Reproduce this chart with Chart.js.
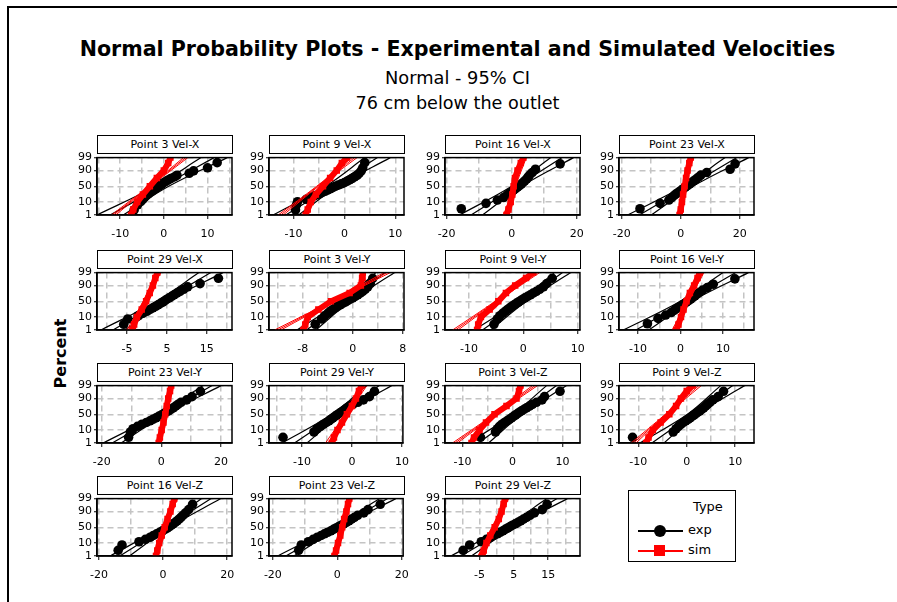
<!DOCTYPE html>
<html>
<head>
<meta charset="utf-8">
<script src="https://cdn.jsdelivr.net/npm/chart.js@4.4.0/dist/chart.umd.min.js"></script>
<style>
  html, body { margin: 0; background: #fff; overflow: hidden; font-family: "DejaVu Sans", Verdana, sans-serif; }
  #page { position: relative; width: 897px; height: 602px; overflow: hidden; background: #fff; }
  #frame { position: absolute; left: 7px; top: 6px; width: 900px; height: 600px; border-top: 2px solid #000; border-left: 2px solid #000; }
  .t { position: absolute; left: 0; width: 915px; text-align: center; color: #000; white-space: nowrap; }
  .hdr { position: absolute; box-sizing: border-box; height: 19px; border: 1px solid #000; background: #fff;
         font-size: 11px; line-height: 17px; text-align: center; white-space: pre; }
  canvas { position: absolute; }
  #ylab { position: absolute; left: 20px; top: 344px; width: 80px; text-align: center; font-weight: bold; font-size: 16px;
          transform: rotate(-90deg); }
  #legend { position: absolute; left: 628px; top: 490px; width: 108px; height: 72px; box-sizing: border-box; border: 1px solid #000; }
  #legend .lt { position: absolute; font-size: 13px; }
  #legend .ln { position: absolute; height: 2px; }
</style>
</head>
<body>
<div id="page">
  <div id="frame"></div>
  <div class="t" style="top:37px;font-size:20.6px;font-weight:bold;">Normal Probability Plots - Experimental and Simulated Velocities</div>
  <div class="t" style="top:67px;font-size:17.8px;">Normal - 95% CI</div>
  <div class="t" style="top:93px;font-size:17.6px;">76 cm below the outlet</div>
  <div id="ylab">Percent</div>
  <div id="legend">
    <div class="lt" style="left:64px;top:8px;">Type</div>
    <div class="ln" style="left:9px;top:39px;width:45px;background:#000;"></div>
    <div style="position:absolute;left:25px;top:34px;width:12px;height:12px;border-radius:50%;background:#000;"></div>
    <div class="lt" style="left:59px;top:31px;">exp</div>
    <div class="ln" style="left:9px;top:59px;width:45px;background:#f00;"></div>
    <div style="position:absolute;left:25px;top:54px;width:11px;height:11px;background:#f00;"></div>
    <div class="lt" style="left:59px;top:51px;">sim</div>
  </div>
</div>
<script>
// ---- layout of the 4x4 grid (15 panels used)
const COL_X = [97, 269, 445, 619];
const ROW_Y = [153, 268, 381, 494];
const PLOT_W = 135, PLOT_H = 62;

// ---- probability axis
const Y_TICKS = [1, 10, 50, 90, 99];
const SIM_PCT = [0.5, 1, 3, 10, 25, 50, 75, 90, 97, 99, 99.5];

const TITLES = ['Point 3 Vel-X', 'Point 9 Vel-X', 'Point 16 Vel-X', 'Point 23 Vel-X',
                'Point 29 Vel-X', 'Point 3 Vel-Y', 'Point 9 Vel-Y', 'Point 16 Vel-Y',
                'Point 23 Vel-Y', 'Point 29 Vel-Y', 'Point 3 Vel-Z', 'Point 9 Vel-Z',
                'Point 16 Vel-Z', 'Point 23 Vel-Z', 'Point 29 Vel-Z'];

const X_RANGE = [[-15.3, 15.6], [-14.8, 11.7], [-20.5, 21.0], [-20.9, 24.8],
                 [-12.5, 21.3], [-13.4, 8.2], [-14.4, 10.4], [-14.5, 17.3],
                 [-21.6, 23.7], [-16.6, 10.2], [-13.5, 13.5], [-14.0, 13.9],
                 [-20.6, 21.5], [-21.2, 20.4], [-15.1, 24.3]];
const X_LABELS = [[-10, 0, 10], [-10, 0, 10], [-20, 0, 20], [-20, 0, 20],
                  [-5, 5, 15], [-8, 0, 8], [-10, 0, 10], [-10, 0, 10],
                  [-20, 0, 20], [-10, 0, 10], [-10, 0, 10], [-10, 0, 10],
                  [-20, 0, 20], [-20, 0, 20], [-5, 5, 15]];
const X_GRID = [5, 5, 10, 10, 5, 4, 5, 5, 10, 5, 5, 5, 10, 10, 5];

// ---- experimental velocities (sorted)
const exp_p3_x  = [-6.8, -6.0, -5.3, -4.8, -4.4, -4.0, -3.6, -3.2, -2.8, -2.4, -2.0, -1.6, -1.2, -0.8, -0.4, 0.0, 0.5, 1.0, 1.6, 2.4, 3.0, 5.8, 6.8, 10.0, 12.2];
const exp_p9_x  = [-9.6, -9.4, -9.2, -7.5, -6.5, -5.8, -5.0, -4.4, -3.8, -3.3, -2.8, -2.3, -1.8, -1.2, -0.6, 0.0, 0.5, 1.0, 1.5, 2.0, 2.5, 2.9, 3.3, 3.6, 4.0];
const exp_p16_x = [-15.5, -7.9, -4.4, -2.5, -1.5, -0.8, 0.0, 0.6, 1.2, 1.8, 2.4, 3.0, 3.5, 4.0, 4.6, 5.0, 5.5, 6.3, 7.3, 14.9];
const exp_p23_x = [-13.8, -7.0, -4.0, -3.0, -2.2, -1.4, -0.6, 0.2, 0.9, 1.6, 2.3, 3.0, 3.7, 4.4, 5.2, 6.0, 6.8, 8.8, 16.7, 18.4];
const exp_p29_x = [-5.8, -4.8, -2.2, -1.0, 0.0, 0.8, 1.5, 2.2, 2.8, 3.4, 4.0, 4.5, 5.0, 5.6, 6.2, 6.8, 7.5, 8.3, 9.2, 10.2, 13.3, 17.9];
const exp_p3_y  = [-6.0, -5.0, -4.5, -4.0, -3.6, -3.2, -2.8, -2.4, -2.0, -1.6, -1.2, -0.8, -0.4, 0.0, 0.4, 0.8, 1.2, 1.6, 2.0, 2.4, 2.8, 3.2];
const exp_p9_y  = [-5.4, -4.8, -4.3, -3.8, -3.3, -2.9, -2.5, -2.1, -1.7, -1.3, -0.9, -0.5, -0.1, 0.3, 0.8, 1.3, 1.8, 2.4, 3.0, 3.7, 4.3, 5.3];
const exp_p16_y = [-7.8, -5.3, -3.5, -2.2, -1.5, -0.9, -0.3, 0.3, 0.9, 1.4, 1.9, 2.4, 2.9, 3.4, 3.9, 4.5, 5.2, 6.3, 7.7, 12.8];
const exp_p23_y = [-11.0, -10.4, -9.5, -8.0, -6.5, -5.0, -3.8, -2.8, -1.8, -0.9, 0.0, 0.8, 1.6, 2.4, 3.2, 4.0, 4.8, 5.6, 6.6, 8.5, 10.3, 13.1];
const exp_p29_y = [-13.8, -7.6, -7.0, -6.3, -5.7, -5.1, -4.6, -4.2, -3.8, -3.4, -3.0, -2.6, -2.2, -1.8, -1.4, -1.0, -0.5, 0.2, 1.2, 2.3, 3.5, 4.5];
const exp_p3_z  = [-6.4, -3.4, -3.0, -2.6, -2.1, -1.6, -1.1, -0.6, -0.2, 0.2, 0.6, 1.0, 1.4, 1.8, 2.3, 2.8, 3.4, 4.0, 4.8, 5.9, 6.4, 9.5];
const exp_p9_z  = [-11.2, -2.8, -2.2, -1.7, -1.2, -0.7, -0.2, 0.3, 0.7, 1.1, 1.5, 1.9, 2.3, 2.7, 3.1, 3.5, 3.9, 4.3, 4.8, 5.4, 6.5, 7.6];
const exp_p16_z = [-14.0, -12.8, -7.5, -5.5, -4.0, -3.0, -2.0, -1.0, -0.2, 0.6, 1.3, 2.0, 2.6, 3.2, 3.8, 4.4, 5.0, 5.6, 6.2, 7.0, 8.0, 9.2];
const exp_p23_z = [-12.0, -11.2, -9.0, -7.5, -6.2, -5.0, -4.0, -3.0, -2.0, -1.2, -0.4, 0.4, 1.2, 2.0, 2.8, 3.6, 4.4, 5.3, 6.3, 8.2, 9.5, 13.3];
const exp_p29_z = [-9.8, -7.9, -4.5, -3.0, -1.8, -0.8, 0.2, 1.0, 1.8, 2.5, 3.2, 3.9, 4.6, 5.4, 6.2, 7.0, 7.8, 8.7, 9.7, 11.0, 13.3, 14.7];

// ---- simulated velocities, x value at each SIM_PCT level
const sim_p3_x  = [-7.9, -7.5, -7.0, -6.1, -4.8, -3.2, -1.6, 0.0, 1.0, 1.5, 1.7];
const sim_p9_x  = [-8.0, -7.6, -7.2, -6.6, -5.6, -4.2, -2.8, -1.5, -0.5, 0.5, 1.0];
const sim_p16_x = [-2.0, -1.6, -1.0, -0.3, 0.2, 0.6, 1.0, 1.8, 2.8, 3.6, 4.0];
const sim_p23_x = [-0.6, -0.4, 0.0, 0.4, 0.8, 1.3, 1.8, 2.3, 2.9, 3.4, 3.7];
const sim_p29_x = [-4.0, -3.6, -3.2, -2.5, -1.3, -0.2, 0.7, 1.5, 2.1, 2.6, 2.9];
const sim_p3_y  = [-8.0, -7.9, -7.6, -7.2, -5.5, -3.5, -0.5, 1.3, 1.5, 1.6, 1.7];
const sim_p9_y  = [-8.7, -8.5, -8.3, -7.8, -6.2, -4.6, -3.2, -1.5, 0.5, 1.8, 2.3];
const sim_p16_y = [-1.3, -1.0, -0.5, 0.1, 0.7, 1.4, 2.2, 3.2, 4.0, 4.5, 4.8];
const sim_p23_y = [-1.3, -0.9, -0.5, 0.1, 0.7, 1.3, 1.8, 2.3, 2.9, 3.3, 3.6];
const sim_p29_y = [-4.4, -4.0, -3.6, -2.9, -2.0, -1.0, 0.0, 0.8, 1.4, 1.9, 2.2];
const sim_p3_z  = [-8.5, -8.2, -7.7, -6.6, -5.3, -3.6, -1.2, 0.8, 1.3, 1.6, 1.8];
const sim_p9_z  = [-8.8, -8.4, -7.9, -7.0, -5.4, -3.6, -2.2, -1.2, 0.0, 1.2, 2.0];
const sim_p16_z = [-2.6, -2.2, -1.8, -1.2, -0.4, 0.5, 1.4, 2.3, 3.0, 3.5, 3.8];
const sim_p23_z = [-1.3, -0.9, -0.4, 0.2, 0.9, 1.5, 2.1, 2.8, 3.3, 3.7, 4.0];
const sim_p29_z = [-4.6, -4.2, -3.8, -3.0, -1.9, -0.6, 0.6, 1.4, 2.0, 2.4, 2.7];

// fitted normal lines: x at 1% and at 99%; CI half width [at ends, at middle]
const EXP_FIT = [[-12.3, 11.5], [-11.5, 6.5], [-12.5, 15.5], [-14.0, 19.0],
                 [-8.5, 16.0], [-7.4, 5.2], [-7.5, 7.2], [-10.5, 13.0],
                 [-16.5, 17.0], [-11.5, 5.5], [-6.8, 8.8], [-7.2, 9.5],
                 [-13.5, 15.0], [-16.0, 15.6], [-10.4, 17.6]];
const EXP_CI = [[3, 1.5], [2.5, 1.2], [3.5, 1.5], [4, 1.6], [3, 1.3], [1.5, 0.7], [1.5, 0.7], [3, 1.3],
                [3, 1.2], [2.5, 1.0], [2, 0.9], [2.5, 1.0], [3, 1.3], [2.5, 1.1], [3, 1.3]];
const SIM_FIT = [[-11.5, 5.0], [-12.5, 2.0], [-2.0, 4.0], [-0.6, 3.6], [-4.5, 3.0],
                 [-12.0, 5.5], [-12.5, 2.5], [-1.5, 5.0], [-1.0, 3.5], [-4.8, 2.5],
                 [-11.5, 4.5], [-11.0, 2.5], [-2.5, 4.0], [-1.0, 4.0], [-5.0, 3.0]];
const SIM_CI = [0.5, 0.2];

const EXP_SETS = [exp_p3_x, exp_p9_x, exp_p16_x, exp_p23_x, exp_p29_x, exp_p3_y, exp_p9_y, exp_p16_y,
                  exp_p23_y, exp_p29_y, exp_p3_z, exp_p9_z, exp_p16_z, exp_p23_z, exp_p29_z];
const SIM_SETS = [sim_p3_x, sim_p9_x, sim_p16_x, sim_p23_x, sim_p29_x, sim_p3_y, sim_p9_y, sim_p16_y,
                  sim_p23_y, sim_p29_y, sim_p3_z, sim_p9_z, sim_p16_z, sim_p23_z, sim_p29_z];

// inverse standard normal (Acklam)
function invNorm(p) {
  const a = [-3.969683028665376e+01, 2.209460984245205e+02, -2.759285104469687e+02, 1.383577518672690e+02, -3.066479806614716e+01, 2.506628277459239e+00];
  const b = [-5.447609879822406e+01, 1.615858368580409e+02, -1.556989798598866e+02, 6.680131188771972e+01, -1.328068155288572e+01];
  const c = [-7.784894002430293e-03, -3.223964580411365e-01, -2.400758277161838e+00, -2.549732539343734e+00, 4.374664141464968e+00, 2.938163982698783e+00];
  const d = [7.784695709041462e-03, 3.224671290700398e-01, 2.445134137142996e+00, 3.754408661907416e+00];
  const pl = 0.02425;
  let q, r;
  if (p < pl) {
    q = Math.sqrt(-2 * Math.log(p));
    return (((((c[0]*q+c[1])*q+c[2])*q+c[3])*q+c[4])*q+c[5]) / ((((d[0]*q+d[1])*q+d[2])*q+d[3])*q+1);
  }
  if (p > 1 - pl) {
    q = Math.sqrt(-2 * Math.log(1 - p));
    return -(((((c[0]*q+c[1])*q+c[2])*q+c[3])*q+c[4])*q+c[5]) / ((((d[0]*q+d[1])*q+d[2])*q+d[3])*q+1);
  }
  q = p - 0.5; r = q * q;
  return (((((a[0]*r+a[1])*r+a[2])*r+a[3])*r+a[4])*r+a[5])*q / (((((b[0]*r+b[1])*r+b[2])*r+b[3])*r+b[4])*r+1);
}
const zOf = pct => invNorm(pct / 100);
const Z_LO = zOf(1), Z_HI = zOf(99);

// box around the plot area
const boxPlugin = {
  id: 'box',
  afterDatasetsDraw(chart) {
    const {ctx, chartArea: a} = chart;
    ctx.save();
    ctx.strokeStyle = '#000';
    ctx.lineWidth = 1.5;
    ctx.strokeRect(a.left, a.top, a.right - a.left, a.bottom - a.top);
    ctx.restore();
  }
};

function fitLines(fit, ci, color, width) {
  const mid = (fit[0] + fit[1]) / 2;
  const line = (d0, d1) => ({
    data: [{x: fit[0] + d0, y: Z_LO}, {x: mid + d1, y: 0}, {x: fit[1] + d0, y: Z_HI}],
    showLine: true, pointRadius: 0, borderColor: color, borderWidth: width, tension: 0.35, clip: 0
  });
  return [line(0, 0), line(-ci[0], -ci[1]), line(ci[0], ci[1])];
}

const page = document.getElementById('page');
Chart.defaults.font.family = '"DejaVu Sans", Verdana, sans-serif';
Chart.defaults.font.size = 11;
Chart.defaults.color = '#000';

TITLES.forEach((title, i) => {
  const L = COL_X[i % 4], T = ROW_Y[Math.floor(i / 4)];

  const hdr = document.createElement('div');
  hdr.className = 'hdr';
  hdr.style.left = L + 'px';
  hdr.style.top = (T - 18) + 'px';
  hdr.style.width = (PLOT_W + 1) + 'px';
  hdr.textContent = title;
  page.appendChild(hdr);

  const cv = document.createElement('canvas');
  const W = 30 + PLOT_W + 14, H = 4 + PLOT_H + 27;
  cv.width = W; cv.height = H;
  cv.style.width = W + 'px'; cv.style.height = H + 'px';
  cv.style.left = (L - 30) + 'px';
  cv.style.top = (T - 4) + 'px';
  page.appendChild(cv);

  const exp = EXP_SETS[i];
  const n = exp.length;
  const expPts = exp.map((v, k) => ({x: v, y: invNorm((k + 1 - 0.3) / (n + 0.4))}));
  const simPts = SIM_SETS[i].map((v, k) => ({x: v, y: zOf(SIM_PCT[k])}));
  const labels = X_LABELS[i];
  const step = X_GRID[i];
  const [xmin, xmax] = X_RANGE[i];

  new Chart(cv, {
    type: 'scatter',
    data: {
      datasets: [
        {data: simPts, showLine: true, borderColor: '#ff0000', borderWidth: 6, pointStyle: 'rect',
         pointRadius: 4.6, pointBackgroundColor: '#ff0000', pointBorderWidth: 0, clip: 0},
        ...fitLines(SIM_FIT[i], SIM_CI, '#ff0000', 1),
        {data: expPts, showLine: false, pointStyle: 'circle', pointRadius: 4.8,
         pointBackgroundColor: '#000', pointBorderWidth: 0, clip: 3},
        ...fitLines(EXP_FIT[i], EXP_CI[i], '#000', 1.2)
      ]
    },
    options: {
      responsive: false,
      animation: false,
      events: [],
      layout: {padding: {left: 0, top: 4, right: 14, bottom: 0}},
      plugins: {legend: {display: false}, tooltip: {enabled: false}},
      scales: {
        x: {
          type: 'linear', min: xmin, max: xmax,
          afterBuildTicks: s => {
            const t = [];
            for (let v = Math.ceil(xmin / step) * step; v <= xmax; v += step) t.push({value: v});
            s.ticks = t;
          },
          afterFit: s => { s.height = 27; },
          ticks: {
            maxRotation: 0, autoSkip: false, padding: 9,
            callback: v => labels.includes(v) ? String(v) : ''
          },
          grid: {
            color: '#c4c4c4', lineWidth: 1.5, tickLength: 4,
            tickColor: c => (c.tick && labels.includes(c.tick.value)) ? '#000' : 'rgba(0,0,0,0)',
            tickWidth: 1
          },
          border: {display: true, color: '#000', width: 1.5, dash: [6, 4]}
        },
        y: {
          type: 'linear', min: Z_LO, max: Z_HI,
          afterBuildTicks: s => { s.ticks = Y_TICKS.map(p => ({value: zOf(p)})); },
          afterFit: s => { s.width = 30; },
          ticks: {
            padding: 2, autoSkip: false,
            callback: (v, k) => String(Y_TICKS[k])
          },
          grid: {color: '#c4c4c4', lineWidth: 1.5, tickLength: 3, tickColor: '#000', tickWidth: 1},
          border: {display: true, color: '#000', width: 1.5, dash: [6, 4]}
        }
      }
    },
    plugins: [boxPlugin]
  });
});
</script>
</body>
</html>
